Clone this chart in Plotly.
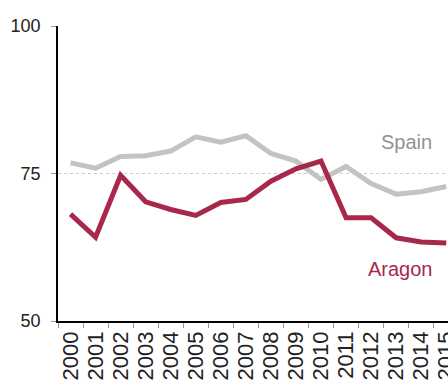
import plotly.graph_objects as go

years = [str(y) for y in range(2000, 2016)]
spain = [76.8, 75.9, 77.9, 78.0, 78.8, 81.2, 80.3, 81.4, 78.4, 77.1, 74.0, 76.2, 73.3, 71.5, 71.9, 72.8]
aragon = [68.1, 64.2, 74.7, 70.2, 68.9, 67.9, 70.1, 70.6, 73.7, 75.8, 77.1, 67.5, 67.5, 64.1, 63.4, 63.2]
y_ticks = [50, 75, 100]

SPAIN_COLOR = "#c3c3c3"
ARAGON_COLOR = "#a8284b"
FONT = "Liberation Sans, Arial, sans-serif"

fig = go.Figure()
fig.add_trace(go.Scatter(x=years, y=spain, mode="lines", name="Spain",
                         line=dict(color=SPAIN_COLOR, width=5)))
fig.add_trace(go.Scatter(x=years, y=aragon, mode="lines", name="Aragon",
                         line=dict(color=ARAGON_COLOR, width=5)))

fig.add_annotation(x=13.42, y=80.3, xref="x", yref="y", text="Spain",
                   showarrow=False, font=dict(family=FONT, size=20, color="#929292"))
fig.add_annotation(x=13.19, y=58.8, xref="x", yref="y", text="Aragon",
                   showarrow=False, font=dict(family=FONT, size=20, color=ARAGON_COLOR))

fig.update_layout(
    width=448, height=381,
    margin=dict(l=58, r=0, t=26, b=60, pad=0),
    paper_bgcolor="white", plot_bgcolor="white",
    showlegend=False,
    font=dict(family=FONT, color="#222222"),
)
fig.update_xaxes(
    type="category", tickson="boundaries", range=[-0.5, 15.07],
    tickmode="array", tickvals=years, ticktext=years,
    showgrid=False, ticks="outside", ticklen=5, tickcolor="#999999",
    showline=True, linecolor="black", linewidth=1.5,
    tickangle=-90, tickfont=dict(family=FONT, size=22, color="#222222"),
    automargin=False,
)
fig.update_yaxes(
    range=[50, 100], tickvals=y_ticks, ticktext=[str(v) for v in y_ticks],
    showgrid=True, gridcolor="#cccccc", griddash="dot", gridwidth=1,
    zeroline=False, ticks="outside", ticklen=5, tickcolor="#999999",
    showline=True, linecolor="black", linewidth=1.5,
    tickfont=dict(family=FONT, size=18, color="#222222"),
    ticklabelstandoff=7, automargin=False,
)

fig.write_html("out.html")
